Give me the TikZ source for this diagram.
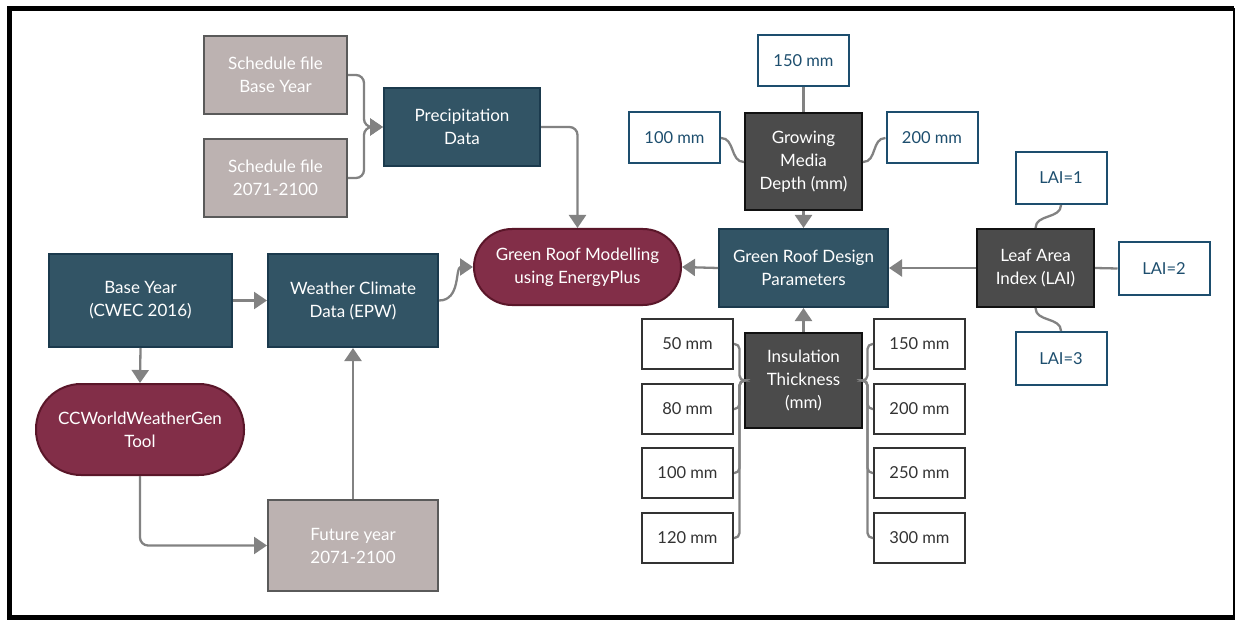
\documentclass[tikz,border=0pt]{standalone}
\usepackage{fontspec}
\setmainfont{Lato}
\usetikzlibrary{arrows.meta,calc}
\definecolor{tealf}{HTML}{325465}
\definecolor{tealb}{HTML}{1B3A4D}
\definecolor{maroonf}{HTML}{822E48}
\definecolor{maroonb}{HTML}{5A1629}
\definecolor{greyf}{HTML}{BCB2B1}
\definecolor{greyb}{HTML}{5A5A5A}
\definecolor{darkf}{HTML}{4B4B4B}
\definecolor{darkb}{HTML}{111111}
\definecolor{optteal}{HTML}{1D4E6E}
\definecolor{optdark}{HTML}{333333}
\definecolor{conncol}{HTML}{828282}
\tikzset{
  base/.style={line width=2pt, align=center, inner sep=2pt, font=\fontsize{17}{23}\selectfont},
  tealbox/.style={base, fill=tealf, draw=tealb, text=white},
  greybox/.style={base, fill=greyf, draw=greyb, text=white},
  darkbox/.style={base, fill=darkf, draw=darkb, text=white},
  pill/.style={base, fill=maroonf, draw=maroonb, text=white},
  optbase/.style={base, font=\fontsize{16.5}{23}\selectfont},
  opttealbox/.style={optbase, fill=white, draw=optteal, text=optteal, minimum width=91pt, minimum height=51pt},
  optdarkbox/.style={optbase, fill=white, draw=optdark, text=optdark, minimum width=91pt, minimum height=50pt},
  conn/.style={draw=conncol, line width=2.3pt},
  arr/.style={conn, -{Triangle[length=13pt,width=17pt]}},
}
\begin{document}
\begin{tikzpicture}[x=1pt,y=-1pt]
\useasboundingbox (0,0) rectangle (1236,620);
% frame
\draw[line width=5pt] (9.5,617.5) -- (9.5,8.5) -- (1234,8.5);
\draw[line width=1.5pt] (1234,8.5) -- (1234,617.5);
\draw[line width=5pt] (7,617.5) -- (1234.7,617.5);

% left part
\node[greybox, minimum width=143pt, minimum height=78pt] (sb) at (275.5,75) {Schedule file\\Base Year};
\node[greybox, minimum width=143pt, minimum height=78pt] (s21) at (275.5,178) {Schedule file\\2071-2100};
\node[tealbox, minimum width=156pt, minimum height=78pt] (prec) at (462,127) {Precipitation\\Data};
\node[pill, minimum width=207pt, minimum height=76pt, rounded corners=38pt] (grm) at (577.5,267) {Green Roof Modelling\\using EnergyPlus};
\node[tealbox, minimum width=183pt, minimum height=93pt] (by) at (140.5,300.5) {Base Year\\(CWEC 2016)};
\node[tealbox, minimum width=170pt, minimum height=93pt] (wc) at (353,300.5) {Weather Climate\\Data (EPW)};
\node[pill, minimum width=208pt, minimum height=91pt, rounded corners=45pt] (cc) at (140,429.5) {CCWorldWeatherGen\\Tool};
\node[greybox, minimum width=170pt, minimum height=91pt] (fy) at (353,545.5) {Future year\\2071-2100};

% right part
\node[opttealbox] (m150) at (803.5,61) {150 mm};
\node[opttealbox] (m100) at (674.5,138) {100 mm};
\node[darkbox, minimum width=117pt, minimum height=97pt] (gm) at (803.5,161.5) {Growing\\Media\\Depth (mm)};
\node[opttealbox] (m200) at (932,138) {200 mm};
\node[opttealbox, minimum height=52pt] (lai1) at (1061,178) {LAI=1};
\node[tealbox, minimum width=169pt, minimum height=78pt] (grd) at (803.5,268) {Green Roof Design\\Parameters};
\node[darkbox, minimum width=117pt, minimum height=78pt] (lai) at (1035.5,268) {Leaf Area\\Index (LAI)};
\node[opttealbox, minimum height=53pt] (lai2) at (1164,268.5) {LAI=2};
\node[opttealbox, minimum height=53pt] (lai3) at (1061,358.5) {LAI=3};
\node[darkbox, minimum width=117pt, minimum height=95pt] (ins) at (803.5,380.5) {Insulation\\Thickness\\(mm)};
\node[optdarkbox] (i50) at (687.5,344) {50 mm};
\node[optdarkbox] (i80) at (687.5,409) {80 mm};
\node[optdarkbox] (i100) at (687.5,473) {100 mm};
\node[optdarkbox] (i120) at (687.5,538) {120 mm};
\node[optdarkbox] (r150) at (919.5,344) {150 mm};
\node[optdarkbox] (r200) at (919.5,409) {200 mm};
\node[optdarkbox] (r250) at (919.5,473) {250 mm};
\node[optdarkbox] (r300) at (919.5,538) {300 mm};

% connectors left
\draw[arr, rounded corners=8pt] (sb.east) -| ($(prec.west)+(-19,0)$) -- (prec.west);
\draw[arr, rounded corners=8pt] (s21.east) -| ($(prec.west)+(-19,0)$) -- (prec.west);
\draw[arr, rounded corners=8pt] (prec.east) -| (grm.north);
\draw[arr] (by.east) -- (wc.west);
\draw[arr] (wc.east) .. controls +(22,0) and +(-18,0) .. (grm.west);
\draw[arr] (by.south) -- (cc.north);
\draw[arr, rounded corners=8pt] (cc.south) |- (fy.west);
\draw[arr] (fy.north) -- (wc.south);

% connectors right
\draw[arr] (grd.west) -- (grm.east);
\draw[arr] (lai.west) -- (grd.east);
\draw[arr] (gm.south) -- (grd.north);
\draw[arr] (ins.north) -- (grd.south);
\draw[conn] (m150.south) -- (gm.north);
\draw[conn] (m100.east) .. controls +(14,0) and +(-14,0) .. ($(gm.west)+(0,0.5)$);
\draw[conn] (m200.west) .. controls +(-14,0) and +(14,0) .. ($(gm.east)+(0,0.5)$);
\draw[conn] (lai1.south) .. controls +(0,14) and +(0,-14) .. (lai.north);
\draw[conn] (lai.east) -- (lai2.west);
\draw[conn] (lai.south) .. controls +(0,14) and +(0,-14) .. (lai3.north);
\foreach \n in {i50,i80,i100,i120}
  \draw[conn, rounded corners=5pt] (\n.east) -- ++(5.5,0) |- (ins.west);
\foreach \n in {r150,r200,r250,r300}
  \draw[conn, rounded corners=5pt] (\n.west) -- ++(-5.5,0) |- (ins.east);
\end{tikzpicture}
\end{document}
